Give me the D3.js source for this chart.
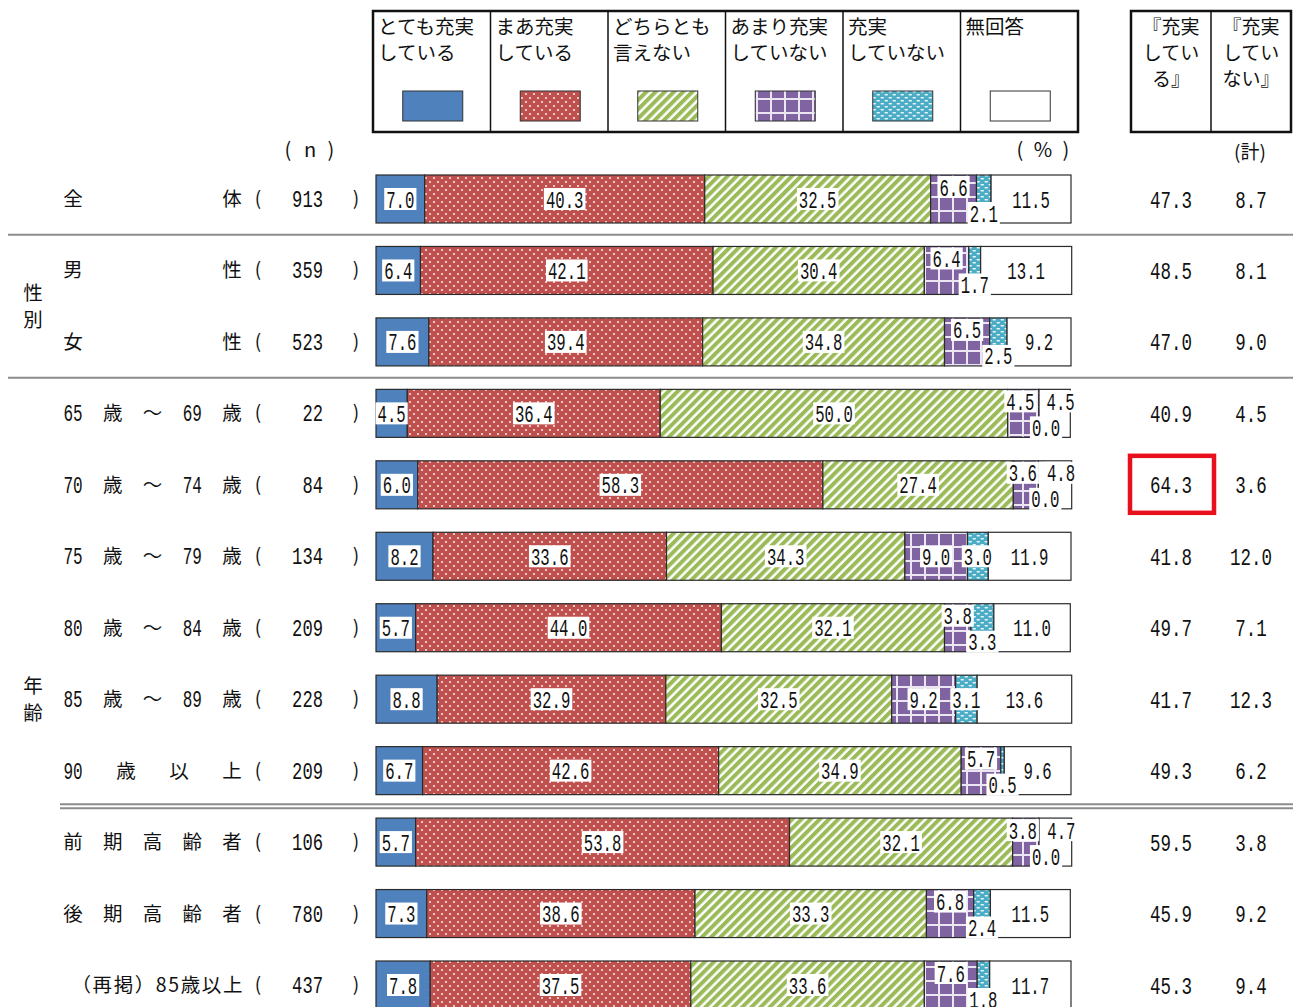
<!DOCTYPE html>
<html lang="ja">
<head>
<meta charset="utf-8">
<script src="https://cdn.jsdelivr.net/npm/d3@7"></script>
<style>
  html, body { margin: 0; padding: 0; background: #fff; }
  svg { display: block; }
</style>
</head>
<body>
<svg id="chart" width="1293" height="1007"></svg>
<script>
// ---- data ----
const rowTokens = [
  ["全", "体"], ["男", "性"], ["女", "性"],
  ["65", "歳", "～", "69", "歳"], ["70", "歳", "～", "74", "歳"], ["75", "歳", "～", "79", "歳"],
  ["80", "歳", "～", "84", "歳"], ["85", "歳", "～", "89", "歳"], ["90", "歳", "以", "上"],
  ["前", "期", "高", "齢", "者"], ["後", "期", "高", "齢", "者"], ["（再掲）85歳以上"]
];
const nValues = [913, 359, 523, 22, 84, 134, 209, 228, 209, 106, 780, 437];

const seriesNames = ["とても充実\nしている", "まあ充実\nしている", "どちらとも\n言えない", "あまり充実\nしていない", "充実\nしていない", "無回答"];
const veryFulfilled     = [7.0, 6.4, 7.6, 4.5, 6.0, 8.2, 5.7, 8.8, 6.7, 5.7, 7.3, 7.8];
const fairlyFulfilled   = [40.3, 42.1, 39.4, 36.4, 58.3, 33.6, 44.0, 32.9, 42.6, 53.8, 38.6, 37.5];
const neither           = [32.5, 30.4, 34.8, 50.0, 27.4, 34.3, 32.1, 32.5, 34.9, 32.1, 33.3, 33.6];
const notVeryFulfilled  = [6.6, 6.4, 6.5, 4.5, 3.6, 9.0, 3.8, 9.2, 5.7, 3.8, 6.8, 7.6];
const notFulfilled      = [2.1, 1.7, 2.5, 0.0, 0.0, 3.0, 3.3, 3.1, 0.5, 0.0, 2.4, 1.8];
const noAnswer          = [11.5, 13.1, 9.2, 4.5, 4.8, 11.9, 11.0, 13.6, 9.6, 4.7, 11.5, 11.7];

const totalHeaders = ["『充実\nしてい\nる』", "『充実\nしてい\nない』"];
const totalFulfilled    = [47.3, 48.5, 47.0, 40.9, 64.3, 41.8, 49.7, 41.7, 49.3, 59.5, 45.9, 45.3];
const totalNotFulfilled = [8.7, 8.1, 9.0, 4.5, 3.6, 12.0, 7.1, 12.3, 6.2, 3.8, 9.2, 9.4];
const highlightRow = 4;

// label placement inside each bar:
// c = centred, t = upper half, b = lower half, T / B = upper / lower half nudged right
const labelPlacement = [
  "ccctbc", "ccctbc", "ccctbc", "ccctBT", "ccctBT", "cccccc",
  "ccctbc", "cccccc", "ccctbc", "ccctBT", "ccctbc", "ccctbc"
];

// ---- layout ----
const svg = d3.select("#chart");
const jpFont = "'Noto Sans CJK JP', 'Noto Sans', sans-serif";
const numFont = "'Liberation Mono', 'DejaVu Sans Mono', monospace";
const series = [veryFulfilled, fairlyFulfilled, neither, notVeryFulfilled, notFulfilled, noAnswer];
const fills = ["#4f81bd", "url(#pDots)", "url(#pStripes)", "url(#pPlaid)", "url(#pDash)", "#ffffff"];

const x = d3.scaleLinear().domain([0, 100]).range([376, 1071]);
const y = d3.scalePoint().domain(d3.range(rowTokens.length)).range([199, 985]);
const barH = 48;
const colX = d3.scalePoint().domain([0, 1]).range([1171, 1251]);

// ---- patterns ----
const defs = svg.append("defs");
const pDots = defs.append("pattern").attr("id", "pDots").attr("patternUnits", "userSpaceOnUse")
  .attr("width", 8).attr("height", 8);
pDots.append("rect").attr("width", 8).attr("height", 8).attr("fill", "#c0504d");
[[2, 2], [6, 6]].forEach(([cx, cy]) => pDots.append("circle").attr("cx", cx).attr("cy", cy).attr("r", 1.1).attr("fill", "#f6e3e3"));

const pStripes = defs.append("pattern").attr("id", "pStripes").attr("patternUnits", "userSpaceOnUse")
  .attr("width", 6.5).attr("height", 6.5).attr("patternTransform", "rotate(45)");
pStripes.append("rect").attr("width", 6.5).attr("height", 6.5).attr("fill", "#ffffff");
pStripes.append("rect").attr("width", 4).attr("height", 6.5).attr("fill", "#9bbb59");

const pPlaid = defs.append("pattern").attr("id", "pPlaid").attr("patternUnits", "userSpaceOnUse")
  .attr("width", 14).attr("height", 14);
pPlaid.append("rect").attr("width", 14).attr("height", 14).attr("fill", "#8064a2");
pPlaid.append("rect").attr("x", 0).attr("width", 2).attr("height", 14).attr("fill", "#ece6f3");
pPlaid.append("rect").attr("y", 0).attr("width", 14).attr("height", 2).attr("fill", "#ece6f3");

const pDash = defs.append("pattern").attr("id", "pDash").attr("patternUnits", "userSpaceOnUse")
  .attr("width", 8).attr("height", 6);
pDash.append("rect").attr("width", 8).attr("height", 6).attr("fill", "#4bacc6");
pDash.append("rect").attr("x", 0.5).attr("y", 1).attr("width", 3.5).attr("height", 1.4).attr("rx", 0.7).attr("fill", "#eaf6fa");
pDash.append("rect").attr("x", 4.5).attr("y", 4).attr("width", 3.5).attr("height", 1.4).attr("rx", 0.7).attr("fill", "#eaf6fa");

// helper: condensed numeric text
function numText(g, str, px, py, anchor, perChar) {
  return g.append("text")
    .attr("x", px).attr("y", py)
    .attr("text-anchor", anchor)
    .attr("font-family", numFont)
    .attr("font-size", 24)
    .attr("fill", "#111")
    .attr("textLength", str.length * perChar)
    .attr("lengthAdjust", "spacingAndGlyphs")
    .text(str);
}

// ---- legend ----
const legendX = d3.scalePoint().domain(d3.range(seriesNames.length + 1)).range([373, 1078]);
const cellW = legendX(1) - legendX(0);
const legend = svg.append("g");
seriesNames.forEach((name, i) => {
  const cx = legendX(i);
  name.split("\n").forEach((line, k) => {
    legend.append("text").attr("x", cx + 5).attr("y", 34 + k * 26)
      .attr("font-family", jpFont).attr("font-size", 19.5).attr("fill", "#111").text(line);
  });
  legend.append("rect").attr("x", cx + cellW / 2 - 29).attr("y", 91).attr("width", 60).attr("height", 30)
    .attr("fill", fills[i]).attr("stroke", "#333").attr("stroke-width", 1);
  if (i > 0) legend.append("line").attr("x1", cx).attr("x2", cx).attr("y1", 11).attr("y2", 132)
    .attr("stroke", "#111").attr("stroke-width", 1.5);
});
legend.append("rect").attr("x", 373).attr("y", 11).attr("width", 705).attr("height", 121)
  .attr("fill", "none").attr("stroke", "#111").attr("stroke-width", 2.5);

// totals header
const tot = svg.append("g");
tot.append("rect").attr("x", 1131).attr("y", 11).attr("width", 160).attr("height", 121)
  .attr("fill", "none").attr("stroke", "#111").attr("stroke-width", 2.5);
tot.append("line").attr("x1", 1211).attr("x2", 1211).attr("y1", 11).attr("y2", 132)
  .attr("stroke", "#111").attr("stroke-width", 1.5);
totalHeaders.forEach((h, i) => {
  h.split("\n").forEach((line, k) => {
    tot.append("text").attr("x", colX(i)).attr("y", 34 + k * 26).attr("text-anchor", "middle")
      .attr("font-family", jpFont).attr("font-size", 19).attr("fill", "#111").text(line);
  });
});
tot.append("text").attr("x", 1250).attr("y", 159).attr("text-anchor", "middle")
  .attr("font-family", jpFont).attr("font-size", 19).attr("fill", "#111").text("(計)");

// unit headers
const hdr = svg.append("g").attr("font-family", jpFont).attr("font-size", 20).attr("fill", "#111").attr("text-anchor", "middle");
[["(", 288], ["n", 310], [")", 331]].forEach(([t, px]) => hdr.append("text").attr("x", px).attr("y", 157).text(t));
[["(", 1020], ["%", 1043], [")", 1066]].forEach(([t, px]) => hdr.append("text").attr("x", px).attr("y", 157).text(t));

// ---- separators ----
const sep = svg.append("g").attr("stroke", "#8c8c8c").attr("stroke-width", 2);
sep.append("line").attr("x1", 8).attr("x2", 1293).attr("y1", (y(0) + y(1)) / 2).attr("y2", (y(0) + y(1)) / 2);
sep.append("line").attr("x1", 8).attr("x2", 1293).attr("y1", (y(2) + y(3)) / 2).attr("y2", (y(2) + y(3)) / 2);
const dblY = (y(8) + y(9)) / 2;
sep.append("line").attr("x1", 60).attr("x2", 1293).attr("y1", dblY - 2).attr("y2", dblY - 2);
sep.append("line").attr("x1", 60).attr("x2", 1293).attr("y1", dblY + 2).attr("y2", dblY + 2);

// group labels
const grp = svg.append("g").attr("font-family", jpFont).attr("font-size", 19.5).attr("fill", "#111").attr("text-anchor", "middle");
[["性", "別", (y(1) + y(2)) / 2], ["年", "齢", (y(3) + y(11)) / 2]].forEach(([a, b, cy]) => {
  grp.append("text").attr("x", 33).attr("y", cy - 6).text(a);
  grp.append("text").attr("x", 33).attr("y", cy + 21).text(b);
});

// ---- row labels ----
const rows = svg.append("g");
rowTokens.forEach((tokens, r) => {
  const cy = y(r);
  if (tokens.length === 1) {
    rows.append("text").attr("x", 244).attr("y", cy + 7).attr("text-anchor", "end")
      .attr("font-family", jpFont).attr("font-size", 19.5).attr("letter-spacing", 1.6)
      .attr("fill", "#111").text(tokens[0]);
  } else {
    const tx = d3.scalePoint().domain(d3.range(tokens.length)).range([73, 232]);
    tokens.forEach((t, k) => {
      if (/^\d+$/.test(t)) numText(rows, t, tx(k), cy + 8, "middle", 9.6);
      else rows.append("text").attr("x", tx(k)).attr("y", cy + 7).attr("text-anchor", "middle")
        .attr("font-family", jpFont).attr("font-size", 19.5).attr("fill", "#111").text(t);
    });
  }
  rows.append("text").attr("x", 258).attr("y", cy + 6).attr("text-anchor", "middle")
    .attr("font-family", jpFont).attr("font-size", 19).attr("fill", "#111").text("(");
  numText(rows, String(nValues[r]), 323, cy + 8, "end", 10.3);
  rows.append("text").attr("x", 356).attr("y", cy + 6).attr("text-anchor", "middle")
    .attr("font-family", jpFont).attr("font-size", 19).attr("fill", "#111").text(")");
});

// ---- stacked bars ----
const stacked = rowTokens.map((_, r) => {
  let acc = 0;
  return series.map((s, i) => {
    const v = s[r];
    const seg = { row: r, key: i, v, x0: acc, x1: acc + v };
    acc += v;
    return seg;
  });
});

const bars = svg.append("g");
stacked.forEach(segs => {
  bars.selectAll(null).data(segs.filter(d => d.v > 0)).join("rect")
    .attr("x", d => x(d.x0))
    .attr("y", d => y(d.row) - barH / 2)
    .attr("width", d => x(d.x1) - x(d.x0))
    .attr("height", barH)
    .attr("fill", d => fills[d.key])
    .attr("stroke", "#2b2b2b")
    .attr("stroke-width", 1.2);
});

// value labels on bars (drawn last so their white boxes sit on top)
const labels = svg.append("g");
stacked.forEach((segs, r) => {
  segs.forEach(d => {
    const str = d.v.toFixed(1);
    const place = labelPlacement[r][d.key];
    const nudge = place === "T" ? 6 : place === "B" ? 7 : 0;
    const up = place === "t" || place === "T";
    const down = place === "b" || place === "B";
    const cx = (x(d.x0) + x(d.x1)) / 2 + nudge - (place === "t" && labelPlacement[r][5] === "T" ? 3 : 0);
    const cy = y(r) + (up ? -12 : down ? 14 : 0);
    const w = str.length * 9.4;
    labels.append("rect").attr("x", cx - w / 2 - 2).attr("y", cy - 11).attr("width", w + 4).attr("height", 22)
      .attr("fill", "#fff");
    numText(labels, str, cx, cy + 8.5, "middle", 9.4);
  });
});

// ---- totals ----
const totals = svg.append("g");
[totalFulfilled, totalNotFulfilled].forEach((arr, i) => {
  arr.forEach((v, r) => numText(totals, v.toFixed(1), colX(i), y(r) + 8.5, "middle", 10.5));
});
totals.append("rect")
  .attr("x", colX(0) - 41).attr("y", y(highlightRow) - 29)
  .attr("width", 84).attr("height", 57)
  .attr("fill", "none").attr("stroke", "#e8101c").attr("stroke-width", 4.5);
</script>
</body>
</html>
